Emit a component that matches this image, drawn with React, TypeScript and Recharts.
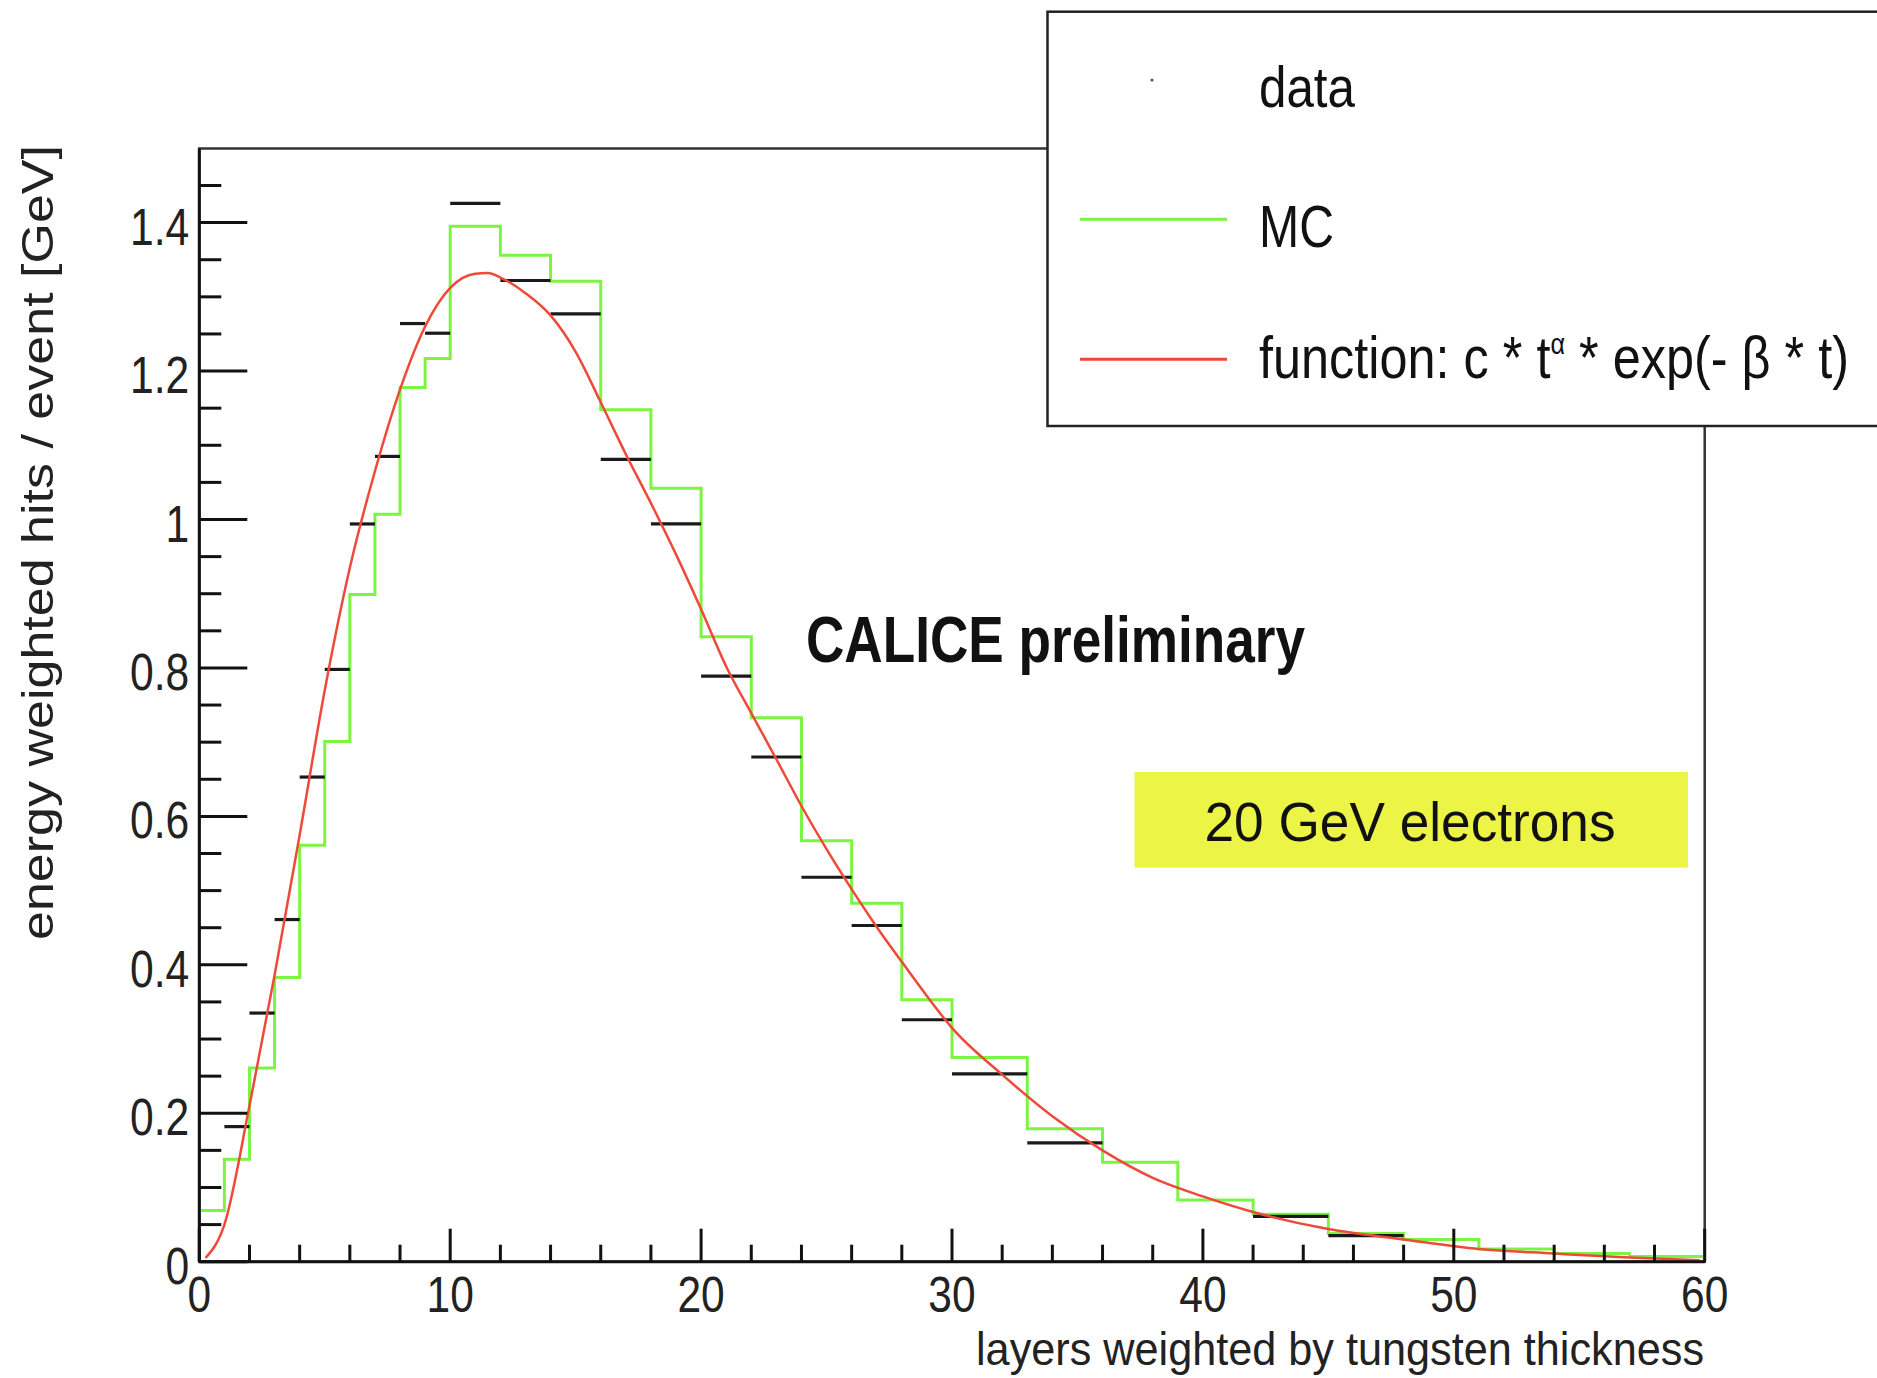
import React from 'react';
import { ComposedChart, Line, Scatter, ErrorBar, XAxis, YAxis, ReferenceArea } from 'recharts';

const FONT = '"Liberation Sans", Arial, Helvetica, sans-serif';

// MC histogram: variable-width bin edges and bin contents
const mcEdges = [0, 1, 2, 3, 4, 5, 6, 7, 8, 9, 10, 12, 14, 16, 18, 20, 22, 24, 26, 28, 30, 33, 36, 39, 42, 45, 48, 51, 54, 57, 60];
const mcValues = [0.069, 0.138, 0.261, 0.383, 0.561, 0.701, 0.899, 1.007, 1.178, 1.217, 1.395, 1.356, 1.321, 1.148, 1.042, 0.842, 0.733, 0.567, 0.483, 0.353, 0.275, 0.179, 0.134, 0.083, 0.064, 0.038, 0.030, 0.017, 0.011, 0.007];

// data: bin centre, half bin width, value
const dataCenters = [1.5, 2.5, 3.5, 4.5, 5.5, 6.5, 7.5, 8.5, 9.5, 11, 13, 15, 17, 19, 21, 23, 25, 27, 29, 31.5, 34.5, 43.5, 46.5];
const dataHalfWidths = [0.5, 0.5, 0.5, 0.5, 0.5, 0.5, 0.5, 0.5, 0.5, 1, 1, 1, 1, 1, 1, 1, 1, 1, 1, 1.5, 1.5, 1.5, 1.5];
const dataValues = [0.182, 0.335, 0.461, 0.653, 0.798, 0.994, 1.085, 1.264, 1.251, 1.426, 1.322, 1.277, 1.081, 0.994, 0.789, 0.680, 0.518, 0.453, 0.326, 0.253, 0.160, 0.061, 0.035];

// fit curve
const fitT = [0.25, 1, 2, 3, 4, 5, 6, 7, 8, 9, 10, 11, 11.5, 12, 13, 14, 15, 16, 17, 18, 19, 20, 21, 22, 23, 24, 25, 26, 27, 28, 29, 30, 32, 34, 36, 38, 40, 42, 45, 48, 51, 54, 57, 59.8];
const fitValues = [0.005, 0.05, 0.21, 0.386, 0.575, 0.77, 0.935, 1.065, 1.175, 1.26, 1.312, 1.331, 1.332, 1.326, 1.305, 1.275, 1.226, 1.158, 1.088, 1.022, 0.953, 0.879, 0.802, 0.739, 0.677, 0.614, 0.556, 0.502, 0.451, 0.404, 0.358, 0.315, 0.252, 0.196, 0.150, 0.113, 0.088, 0.067, 0.044, 0.030, 0.017, 0.011, 0.0055, 0.002];

const xTicks = [0, 2, 4, 6, 8, 10, 12, 14, 16, 18, 20, 22, 24, 26, 28, 30, 32, 34, 36, 38, 40, 42, 44, 46, 48, 50, 52, 54, 56, 58, 60];
const yTicks = [0, 0.05, 0.1, 0.15, 0.2, 0.25, 0.3, 0.35, 0.4, 0.45, 0.5, 0.55, 0.6, 0.65, 0.7, 0.75, 0.8, 0.85, 0.9, 0.95, 1, 1.05, 1.1, 1.15, 1.2, 1.25, 1.3, 1.35, 1.4, 1.45];

const mcData = mcEdges.map((t, i) => ({ t, mc: mcValues[Math.min(i, mcValues.length - 1)] }));
const dataPts = dataCenters.map((t, i) => ({ t, v: dataValues[i], err: dataHalfWidths[i] }));
const fitData = fitT.map((t, i) => ({ t, fit: fitValues[i] }));

const GREEN = '#7cf442';
const RED = '#ee4a3a';

const yLabel = (v: number) => (v === 0 ? '0' : Number.isInteger(v) ? String(v) : v.toFixed(1));

const YTick = (props: any) => {
  const { x, y, payload } = props;
  const v = payload.value;
  const major = Math.abs(v * 5 - Math.round(v * 5)) < 1e-6;
  return (
    <g>
      <line x1={x} y1={y} x2={x + (major ? 48 : 22)} y2={y} stroke="#111" strokeWidth={3} />
      {major && (
        <text transform={`translate(${x - 10},${y + 22}) scale(0.82,1)`} textAnchor="end"
          fontSize={52} fontFamily={FONT} fill="#222">{yLabel(v)}</text>
      )}
    </g>
  );
};

const XTick = (props: any) => {
  const { x, y, payload } = props;
  const v = payload.value;
  const major = v % 10 === 0;
  return (
    <g>
      <line x1={x} y1={y} x2={x} y2={y - (major ? 33 : 17)} stroke="#111" strokeWidth={3} />
      {major && (
        <text transform={`translate(${x},${y + 50}) scale(0.85,1)`} textAnchor="middle"
          fontSize={50} fontFamily={FONT} fill="#222">{v}</text>
      )}
    </g>
  );
};

export default function App() {
  return (
    <div style={{ position: 'absolute', left: 0, top: 0, width: 1877, height: 1378, background: '#fff' }}>
      <ComposedChart width={1877} height={1378}
        margin={{ top: 148.4, right: 172.3, left: 79.3, bottom: 56.3 }}>
        <XAxis type="number" dataKey="t" domain={[0, 60]} ticks={xTicks} interval={0}
          tick={(p: any) => <XTick {...p} />} tickLine={false} tickSize={0} tickMargin={0}
          height={60} axisLine={{ stroke: '#111', strokeWidth: 3 }} allowDataOverflow />
        <YAxis type="number" domain={[0, 1.5]} ticks={yTicks} interval={0}
          tick={(p: any) => <YTick {...p} />} tickLine={false} tickSize={0} tickMargin={0}
          width={120} axisLine={{ stroke: '#111', strokeWidth: 3 }} allowDataOverflow />
        <ReferenceArea x1={0} x2={60} y1={0} y2={1.5} fill="none" fillOpacity={0}
          stroke="#333" strokeWidth={2.5} ifOverflow="visible" />
        <Line data={mcData} dataKey="mc" type="stepAfter" stroke={GREEN} strokeWidth={3}
          dot={false} activeDot={false} isAnimationActive={false} />
        <Scatter data={dataPts} dataKey="v" isAnimationActive={false} shape={() => <g />}>
          <ErrorBar dataKey="err" direction="x" width={0} stroke="#1a1a1a" strokeWidth={3.2} />
        </Scatter>
        <Line data={fitData} dataKey="fit" type="monotone" stroke={RED} strokeWidth={2.5}
          dot={false} activeDot={false} isAnimationActive={false} />
      </ComposedChart>

      <svg width={1877} height={1378} style={{ position: 'absolute', left: 0, top: 0, pointerEvents: 'none' }}
        fontFamily={FONT}>
        {/* legend */}
        <rect x={1047.5} y={11.7} width={900} height={414.3} fill="#fff" stroke="#222" strokeWidth={2.5} />
        <circle cx={1152} cy={80} r={1.6} fill="#555" />
        <text x={1259} y={106.7} fontSize={58} textLength={96} lengthAdjust="spacingAndGlyphs" fill="#111">data</text>
        <line x1={1080} x2={1227} y1={219.3} y2={219.3} stroke={GREEN} strokeWidth={3} />
        <text x={1259} y={247} fontSize={60} textLength={75} lengthAdjust="spacingAndGlyphs" fill="#111">MC</text>
        <line x1={1080} x2={1227} y1={359.3} y2={359.3} stroke={RED} strokeWidth={3} />
        <text x={1259} y={378} fontSize={60} textLength={590} lengthAdjust="spacingAndGlyphs" fill="#111">
          function: c * t<tspan dy={-24} fontSize={30}>α</tspan><tspan dy={24}> * exp(- β * t)</tspan>
        </text>

        {/* annotations */}
        <text x={806} y={661.7} fontSize={65} fontWeight="bold" textLength={499}
          lengthAdjust="spacingAndGlyphs" fill="#111">CALICE preliminary</text>
        <rect x={1134.5} y={772} width={553.5} height={95.6} fill="#ecf446" />
        <text x={1204.5} y={840.8} fontSize={55} textLength={411} lengthAdjust="spacingAndGlyphs"
          fill="#111">20 GeV electrons</text>

        {/* axis titles */}
        <text transform="translate(53,940) rotate(-90)" fontSize={45} textLength={795}
          lengthAdjust="spacingAndGlyphs" fill="#222">energy weighted hits / event [GeV]</text>
        <text x={1704} y={1365} textAnchor="end" fontSize={47} textLength={728}
          lengthAdjust="spacingAndGlyphs" fill="#222">layers weighted by tungsten thickness</text>
      </svg>
    </div>
  );
}
